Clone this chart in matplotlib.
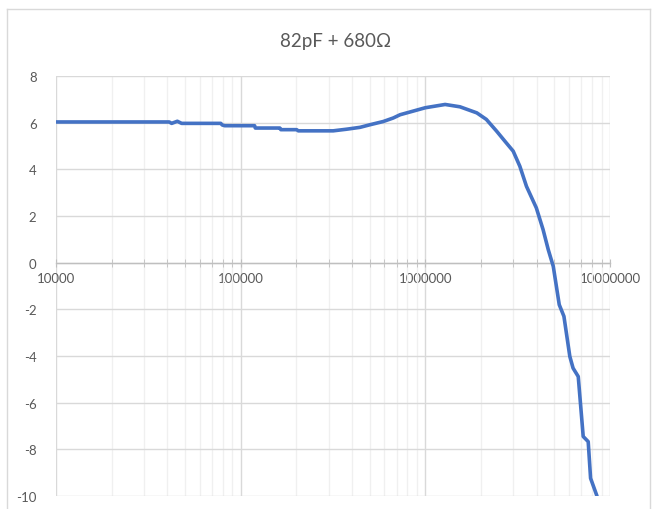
import matplotlib
matplotlib.use('Agg')
import matplotlib.pyplot as plt
from matplotlib.lines import Line2D
from matplotlib.ticker import LogLocator, NullFormatter

plt.rcParams['font.family'] = ['Lato', 'DejaVu Sans']
plt.rcParams['axes.unicode_minus'] = False

# frequência (Hz) e ganho (dB)
freq = [1e4, 4.1e4, 4.23e4, 4.54e4, 4.79e4, 7.8e4, 7.95e4, 8.2e4, 1.19e5, 1.2e5,
        1.63e5, 1.65e5, 2.01e5, 2.05e5, 3.17e5, 3.75e5, 4.43e5, 5.01e5, 5.92e5,
        6.7e5, 7.3e5, 1.0e6, 1.28e6, 1.54e6, 1.9e6, 2.14e6, 2.43e6, 2.7e6, 2.99e6,
        3.25e6, 3.53e6, 3.99e6, 4.34e6, 4.63e6, 4.93e6, 5.31e6, 5.63e6, 6.06e6,
        6.31e6, 6.73e6, 7.16e6, 7.62e6, 7.85e6, 8.5e6]
ganho = [6.03, 6.03, 5.97, 6.06, 5.97, 5.97, 5.9, 5.87, 5.87, 5.77,
         5.77, 5.70, 5.70, 5.65, 5.65, 5.72, 5.80, 5.91, 6.05,
         6.20, 6.34, 6.64, 6.78, 6.68, 6.42, 6.14, 5.64, 5.20, 4.78,
         4.13, 3.27, 2.35, 1.42, 0.56, -0.16, -1.8, -2.3, -4.02,
         -4.52, -4.88, -7.45, -7.67, -9.24, -10.0]

y_ticks = [-10, -8, -6, -4, -2, 0, 2, 4, 6, 8]
x_ticks = [1e4, 1e5, 1e6, 1e7]
x_labels = ['10000', '100000', '1000000', '10000000']

cinza_txt = '#595959'

fig = plt.figure(figsize=(6.59, 5.10), dpi=100)
ax = fig.add_axes([56 / 659, 1 - 497 / 510, (610 - 56) / 659, (497 - 77) / 510])

ax.plot(freq, ganho, color='#4472C4', linewidth=2.6, solid_capstyle='round', zorder=3)

ax.set_xscale('log')
ax.set_xlim(1e4, 1e7)
ax.set_ylim(-10, 8)

ax.set_xticks(x_ticks)
ax.set_xticklabels(x_labels)
ax.xaxis.set_minor_locator(LogLocator(base=10, subs=range(2, 10)))
ax.xaxis.set_minor_formatter(NullFormatter())
ax.set_yticks(y_ticks)

ax.grid(True, which='major', color='#D9D9D9', linewidth=1.0, zorder=0)
ax.grid(True, which='minor', axis='x', color='#F0F0F0', linewidth=1.0, zorder=0)

for s in ['top', 'right', 'left']:
    ax.spines[s].set_visible(False)
ax.spines['bottom'].set_position(('data', 0))
ax.spines['bottom'].set_color('#BFBFBF')
ax.spines['bottom'].set_linewidth(1.0)

ax.tick_params(axis='x', which='both', direction='inout', color='#BFBFBF',
               labelcolor=cinza_txt, labelsize=9.5, pad=4, length=6)
ax.tick_params(axis='y', length=0, labelcolor=cinza_txt, labelsize=9.5, pad=14)

fig.text(336 / 659, 1 - 41 / 510, '82pF + 680Ω', ha='center', va='center',
         fontsize=13.5, color=cinza_txt)

# borda da área do gráfico
borda = dict(color='#D9D9D9', linewidth=1.0, transform=fig.transFigure)
fig.add_artist(Line2D([7 / 659, 7 / 659], [0, 1 - 10 / 510], **borda))
fig.add_artist(Line2D([7 / 659, 650 / 659], [1 - 10 / 510, 1 - 10 / 510], **borda))
fig.add_artist(Line2D([650 / 659, 650 / 659], [0, 1 - 10 / 510], **borda))

fig.savefig('out.png', dpi=100)
